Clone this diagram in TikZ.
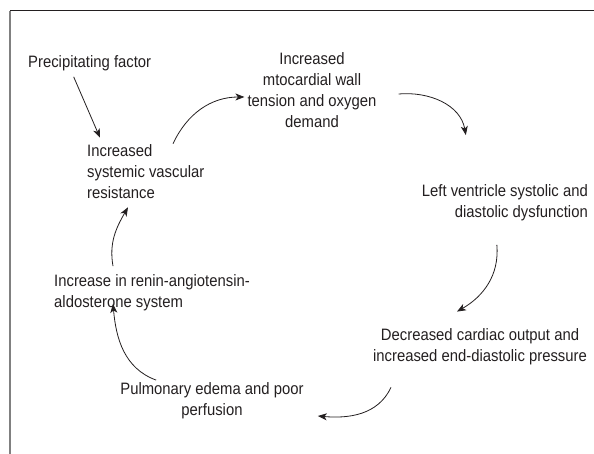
\documentclass[tikz,border=0pt]{standalone}
\usepackage{fontspec}
\newfontfamily\diagfont{Liberation Sans}[FakeStretch=0.9]
\usetikzlibrary{arrows.meta}
\definecolor{ink}{HTML}{231F20}

\begin{document}
\begin{tikzpicture}[x=1pt,y=1pt,
                label/.style={inner sep=0pt,text=ink,font=\diagfont\fontsize{16.5}{21}\selectfont},
                arr/.style={-{Stealth[length=9pt,width=7pt,inset=2.5pt]},line width=0.8pt,ink}]
                \useasboundingbox (0,0) rectangle (594,454);
                \draw[line width=1pt,ink] (10,443) -- (594,443);
                \draw[line width=1.5pt,gray] (10,443) -- (10,0);

                \node[label,anchor=west] (pf) at (28,391) {Precipitating factor};
                \node[label,anchor=west,align=left] (svr) at (87,282) {Increased\\systemic vascular\\resistance};
                \node[label,align=center] (mwt) at (312,364) {Increased\\mtocardial wall\\tension and oxygen\\demand};
                \node[label,anchor=east,align=right] (lvs) at (588,251.5) {Left ventricle systolic and\\diastolic dysfunction};
                \node[label,align=center] (dco) at (480,107) {Decreased cardiac output and\\increased end-diastolic pressure};
                \node[label,align=center] (pep) at (212,53.5) {Pulmonary edema and poor\\perfusion};
                \node[label,anchor=west,align=left] (ras) at (54,161.5) {Increase in renin-angiotensin-\\aldosterone system};

                \draw[arr] ([xshift=-16pt,yshift=-6pt]pf.south) -- ([xshift=13pt,yshift=7pt]svr.north west);
                \draw[arr] ([xshift=86pt,yshift=1pt]svr.north west) to[out=65,in=180] ([xshift=-3pt,yshift=-7pt]mwt.west);
                \draw[arr] ([xshift=22pt,yshift=-4pt]mwt.east) to[out=5,in=100] ([xshift=-39pt,yshift=49pt]lvs.north);
                \draw[arr] ([xshift=-8pt,yshift=-24pt]lvs.south) to[out=-85,in=30] ([xshift=-23pt,yshift=17pt]dco.north);
                \draw[arr] ([xshift=-89pt,yshift=-22pt]dco.south) to[out=-115,in=-5] ([xshift=14pt,yshift=-15.5pt]pep.east);
                \draw[arr] ([xshift=36pt,yshift=2pt]pep.north west) to[out=160,in=-85] ([xshift=59pt,yshift=7pt]ras.south west);
                \draw[arr] ([xshift=59pt,yshift=8pt]ras.north west) to[out=100,in=-120] ([xshift=41pt,yshift=-8pt]svr.south west);
            \end{tikzpicture}
\end{document}
